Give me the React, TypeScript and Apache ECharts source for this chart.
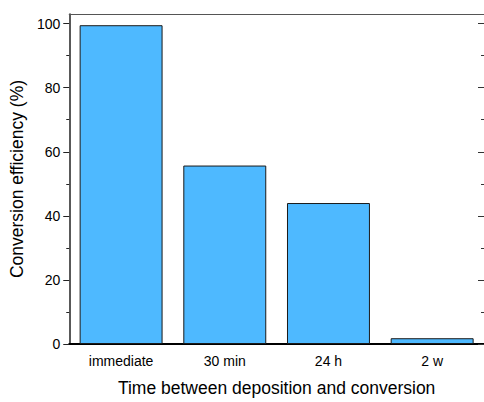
import React, { useEffect, useRef } from "react";
import * as echarts from "echarts";

const categories = ["immediate", "30 min", "24 h", "2 w"];
const efficiency = [99.5, 55.7, 44.0, 1.8];
const majorTicks = [0, 20, 40, 60, 80, 100];
const minorTicks = [10, 30, 50, 70, 90];

const FONT = "'Liberation Sans', Arial, sans-serif";

export default function App() {
  const ref = useRef<HTMLDivElement>(null);
  useEffect(() => {
    if (!ref.current) return;
    const chart = echarts.init(ref.current, undefined, { renderer: "svg" });
    const yBase = { type: "value", min: 0, max: 103, splitLine: { show: false } };
    chart.setOption({
      animation: false,
      backgroundColor: "#ffffff",
      textStyle: { fontFamily: FONT },
      grid: { left: 66, top: 14, width: 420, height: 336 },
      xAxis: [
        {
          type: "category",
          position: "bottom",
          data: categories,
          axisLine: { onZero: false, lineStyle: { color: "#000", width: 2 } },
          axisTick: { alignWithLabel: true, length: 6, lineStyle: { color: "#000", width: 1 } },
          axisLabel: { fontSize: 14, color: "#000", margin: 10, fontFamily: FONT },
          name: "Time between deposition and conversion",
          nameLocation: "middle",
          nameGap: 35,
          nameTextStyle: { fontSize: 17.5, color: "#000", fontFamily: FONT },
        },
        {
          type: "category",
          position: "top",
          data: categories,
          axisLine: { onZero: false, lineStyle: { color: "#555", width: 1.2 } },
          axisTick: { alignWithLabel: true, inside: true, length: 6, lineStyle: { color: "#333", width: 1 } },
          axisLabel: { show: false },
        },
      ],
      yAxis: [
        {
          ...yBase,
          position: "left",
          axisLine: { show: true, onZero: false, lineStyle: { color: "#222", width: 1.5 } },
          axisTick: { show: true, length: 6, customValues: majorTicks, lineStyle: { color: "#222", width: 1 } },
          axisLabel: { customValues: majorTicks, fontSize: 14, color: "#000", margin: 9, fontFamily: FONT },
          name: "Conversion efficiency (%)",
          nameLocation: "middle",
          nameGap: 40,
          nameRotate: 90,
          nameTextStyle: { fontSize: 17.5, color: "#000", fontFamily: FONT, padding: [0, 0, 0, 0] },
        },
        {
          ...yBase,
          position: "left",
          axisLine: { show: false },
          axisTick: { show: true, length: 3, customValues: minorTicks, lineStyle: { color: "#222", width: 1 } },
          axisLabel: { show: false },
        },
        {
          ...yBase,
          position: "right",
          axisLine: { show: false },
          axisTick: { show: true, inside: true, length: 6, customValues: majorTicks, lineStyle: { color: "#333", width: 1 } },
          axisLabel: { show: false },
        },
        {
          ...yBase,
          position: "right",
          axisLine: { show: false },
          axisTick: { show: true, inside: true, length: 3, customValues: minorTicks, lineStyle: { color: "#333", width: 1 } },
          axisLabel: { show: false },
        },
      ],
      series: [
        {
          type: "bar",
          data: efficiency,
          xAxisIndex: 0,
          yAxisIndex: 0,
          barCategoryGap: "20%",
          itemStyle: { color: "#4EB9FF", borderColor: "#1a1a1a", borderWidth: 1 },
        },
      ],
    });
    return () => chart.dispose();
  }, []);
  return (
    <div
      ref={ref}
      style={{ position: "fixed", left: 0, top: 0, width: 484, height: 402 }}
    />
  );
}
